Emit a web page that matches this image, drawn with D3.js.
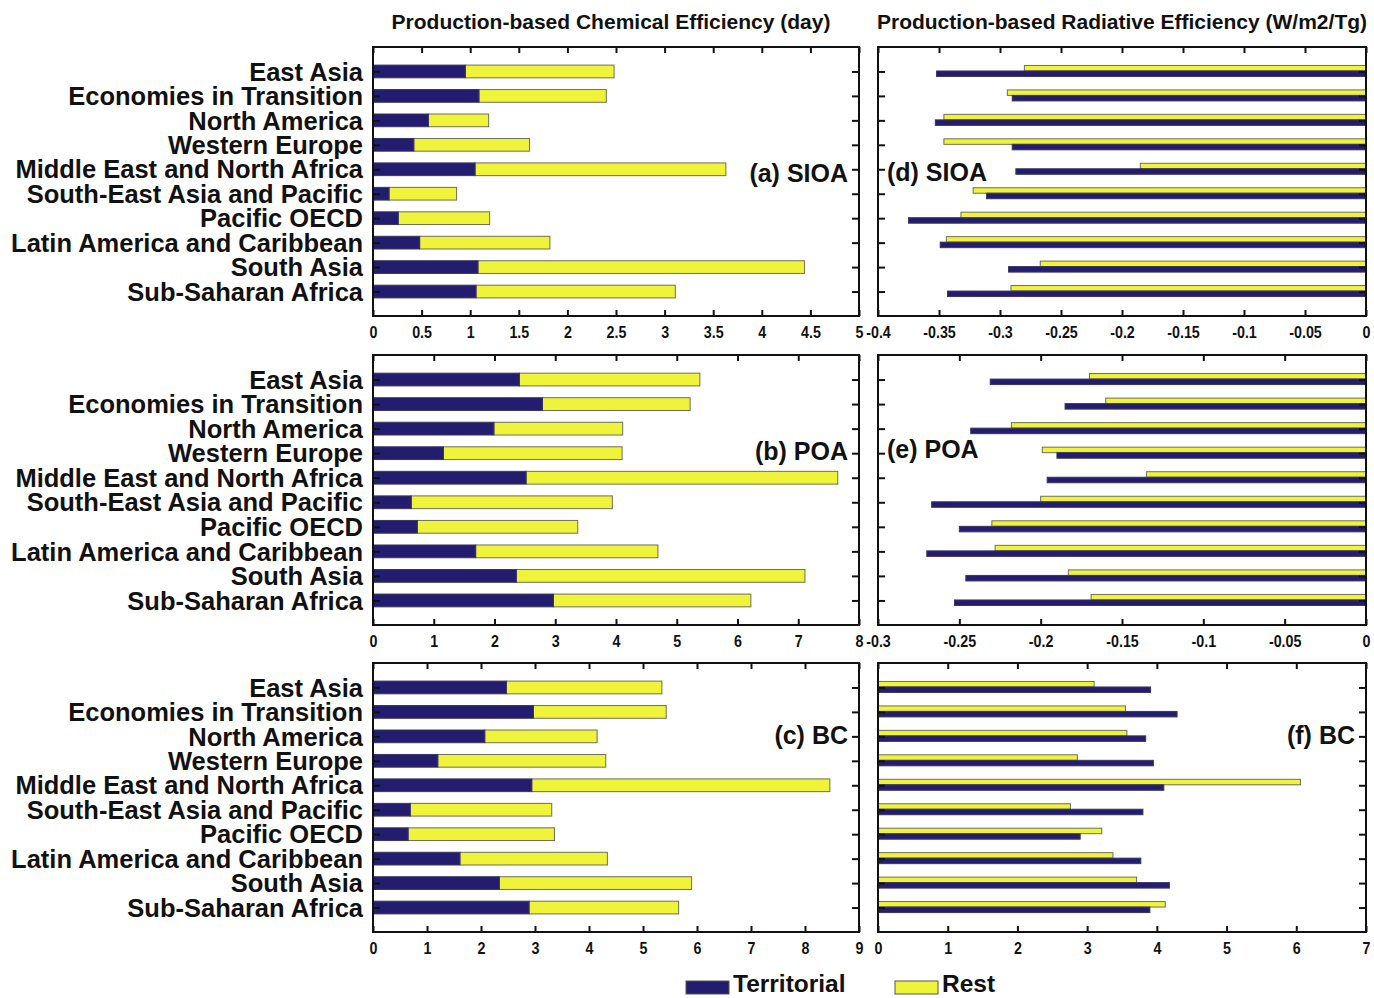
<!DOCTYPE html>
<html>
<head>
<meta charset="utf-8">
<script src="https://cdn.jsdelivr.net/npm/d3@7"></script>
<style>
  html, body { margin: 0; padding: 0; background: #fff; }
  svg { display: block; }
  text { font-family: "Liberation Sans", Arial, sans-serif; font-weight: bold; fill: #111; }
</style>
</head>
<body>
<svg id="chart" width="1374" height="998"></svg>
<script>
// ---------------- DATA ----------------
const categories = ["East Asia", "Economies in Transition", "North America", "Western Europe",
  "Middle East and North Africa", "South-East Asia and Pacific", "Pacific OECD",
  "Latin America and Caribbean", "South Asia", "Sub-Saharan Africa"];

// Production-based chemical efficiency (day): stacked Territorial + Rest
const sioaChemTerritorial = [0.95, 1.09, 0.57, 0.42, 1.05, 0.165, 0.26, 0.48, 1.08, 1.06];
const sioaChemRest        = [1.53, 1.31, 0.62, 1.19, 2.58, 0.695, 0.94, 1.34, 3.36, 2.05];
const poaChemTerritorial  = [2.41, 2.79, 1.99, 1.16, 2.52, 0.63, 0.73, 1.69, 2.36, 2.97];
const poaChemRest         = [2.97, 2.43, 2.12, 2.94, 5.13, 3.31, 2.64, 3.00, 4.75, 3.25];
const bcChemTerritorial   = [2.47, 2.97, 2.07, 1.20, 2.94, 0.69, 0.65, 1.61, 2.34, 2.89];
const bcChemRest          = [2.88, 2.46, 2.08, 3.11, 5.52, 2.62, 2.71, 2.73, 3.56, 2.77];

// Production-based radiative efficiency (W/m2/Tg): grouped Territorial / Rest
const sioaRadTerritorial = [-0.352, -0.290, -0.353, -0.290, -0.287, -0.311, -0.375, -0.349, -0.293, -0.343];
const sioaRadRest        = [-0.280, -0.294, -0.346, -0.346, -0.185, -0.322, -0.332, -0.344, -0.267, -0.291];
const poaRadTerritorial  = [-0.231, -0.185, -0.243, -0.190, -0.196, -0.267, -0.250, -0.270, -0.246, -0.253];
const poaRadRest         = [-0.170, -0.160, -0.218, -0.199, -0.135, -0.200, -0.230, -0.228, -0.183, -0.169];
const bcRadTerritorial   = [3.91, 4.29, 3.84, 3.95, 4.10, 3.80, 2.90, 3.77, 4.18, 3.90];
const bcRadRest          = [3.10, 3.55, 3.57, 2.86, 6.06, 2.76, 3.21, 3.37, 3.71, 4.12];

// Tick values
const ticksSioaChem = [0, 0.5, 1, 1.5, 2, 2.5, 3, 3.5, 4, 4.5, 5];
const ticksPoaChem  = [0, 1, 2, 3, 4, 5, 6, 7, 8];
const ticksBcChem   = [0, 1, 2, 3, 4, 5, 6, 7, 8, 9];
const ticksSioaRad  = [-0.4, -0.35, -0.3, -0.25, -0.2, -0.15, -0.1, -0.05, 0];
const ticksPoaRad   = [-0.3, -0.25, -0.2, -0.15, -0.1, -0.05, 0];
const ticksBcRad    = [0, 1, 2, 3, 4, 5, 6, 7];

const columnTitles = ["Production-based Chemical Efficiency (day)", "Production-based Radiative Efficiency (W/m2/Tg)"];
const panelLabels = ["(a) SIOA", "(b) POA", "(c) BC", "(d) SIOA", "(e) POA", "(f) BC"];
const seriesNames = ["Territorial", "Rest"];

// ---------------- STYLE / LAYOUT ----------------
const NAVY = "#241d6f", YELLOW = "#eff33a", BAR_STROKE = "#6e6e5a";
const svg = d3.select("#chart");
svg.append("rect").attr("width", 1374).attr("height", 998).attr("fill", "#fff");

const cols = [{x0: 373, x1: 859}, {x0: 878, x1: 1366}];
const rows = [{y0: 47, y1: 316}, {y0: 355, y1: 625}, {y0: 663, y1: 932}];

const panels = [
  {col: 0, row: 0, type: "stacked", terr: sioaChemTerritorial, rest: sioaChemRest, domain: [0, 5], ticks: ticksSioaChem, label: panelLabels[0], labelPos: "right", labelCat: 4, labelDy: 4},
  {col: 0, row: 1, type: "stacked", terr: poaChemTerritorial, rest: poaChemRest, domain: [0, 8], ticks: ticksPoaChem, label: panelLabels[1], labelPos: "right", labelCat: 3, labelDy: -2},
  {col: 0, row: 2, type: "stacked", terr: bcChemTerritorial, rest: bcChemRest, domain: [0, 9], ticks: ticksBcChem, label: panelLabels[2], labelPos: "right", labelCat: 2, labelDy: -1},
  {col: 1, row: 0, type: "grouped", terr: sioaRadTerritorial, rest: sioaRadRest, domain: [-0.4, 0], ticks: ticksSioaRad, label: panelLabels[3], labelPos: "left", labelCat: 4, labelDy: 3},
  {col: 1, row: 1, type: "grouped", terr: poaRadTerritorial, rest: poaRadRest, domain: [-0.3, 0], ticks: ticksPoaRad, label: panelLabels[4], labelPos: "left", labelCat: 3, labelDy: -4},
  {col: 1, row: 2, type: "grouped", terr: bcRadTerritorial, rest: bcRadRest, domain: [0, 7], ticks: ticksBcRad, label: panelLabels[5], labelPos: "right", labelCat: 2, labelDy: -1},
];

const fmt = v => { const s = String(+v.toFixed(2)); return s === "-0" ? "0" : s; };

panels.forEach(p => {
  const {x0, x1} = cols[p.col];
  const {y0, y1} = rows[p.row];
  const x = d3.scaleLinear().domain(p.domain).range([x0, x1]);
  const y = d3.scalePoint().domain(categories).range([y0, y1]).padding(1);
  const step = y.step();
  const g = svg.append("g");
  const zero = x(0);

  if (p.type === "stacked") {
    const h = step * 0.52;
    const data = categories.map((c, i) => ({c, t: p.terr[i], r: p.rest[i]}));
    g.selectAll("rect.rest").data(data).join("rect")
      .attr("x", d => x(d.t)).attr("width", d => x(d.t + d.r) - x(d.t))
      .attr("y", d => y(d.c) - h / 2).attr("height", h)
      .attr("fill", YELLOW).attr("stroke", BAR_STROKE).attr("stroke-width", 1);
    g.selectAll("rect.terr").data(data).join("rect")
      .attr("x", zero).attr("width", d => x(d.t) - zero)
      .attr("y", d => y(d.c) - h / 2).attr("height", h)
      .attr("fill", NAVY).attr("stroke", "#3a3560").attr("stroke-width", 1);
    // category labels
    g.selectAll("text.cat").data(categories).join("text")
      .attr("x", x0 - 10).attr("y", d => y(d))
      .attr("dy", "0.36em").attr("text-anchor", "end")
      .style("font-size", "25.5px").text(d => d);
  } else {
    const data = categories.map((c, i) => ({c, t: p.terr[i], r: p.rest[i]}));
    const left = v => Math.min(x(v), zero), wid = v => Math.abs(x(v) - zero);
    g.selectAll("rect.rest").data(data).join("rect")
      .attr("x", d => left(d.r)).attr("width", d => wid(d.r))
      .attr("y", d => y(d.c) - step * 0.245).attr("height", step * 0.225)
      .attr("fill", YELLOW).attr("stroke", BAR_STROKE).attr("stroke-width", 1);
    g.selectAll("rect.terr").data(data).join("rect")
      .attr("x", d => left(d.t)).attr("width", d => wid(d.t))
      .attr("y", d => y(d.c) - step * 0.02).attr("height", step * 0.225)
      .attr("fill", NAVY).attr("stroke", "#3a3560").attr("stroke-width", 1);
  }

  // axes (inward ticks)
  const bottom = g.append("g").attr("transform", `translate(0,${y1})`)
    .call(d3.axisBottom(x).tickValues(p.ticks).tickSize(-6).tickPadding(10).tickFormat(fmt));
  const top = g.append("g").attr("transform", `translate(0,${y0})`)
    .call(d3.axisTop(x).tickValues(p.ticks).tickSize(-6).tickFormat(""));
  const leftAx = g.append("g").attr("transform", `translate(${x0},0)`)
    .call(d3.axisLeft(y).tickSize(-7).tickFormat(""));
  const rightAx = g.append("g").attr("transform", `translate(${x1},0)`)
    .call(d3.axisRight(y).tickSize(-7).tickFormat(""));
  [bottom, top, leftAx, rightAx].forEach(a => {
    a.select(".domain").remove();
    a.selectAll(".tick line").attr("stroke", "#111").attr("stroke-width", 2);
  });
  bottom.selectAll(".tick text")
    .style("font-size", "17px").style("font-family", "'Liberation Sans', Arial, sans-serif")
    .style("font-weight", "bold").attr("fill", "#111")
    .each(function () {
      const len = this.getComputedTextLength();
      d3.select(this).attr("textLength", len * 0.84).attr("lengthAdjust", "spacingAndGlyphs");
    });

  // frame
  g.append("rect").attr("x", x0).attr("y", y0).attr("width", x1 - x0).attr("height", y1 - y0)
    .attr("fill", "none").attr("stroke", "#111").attr("stroke-width", 2);

  // panel label
  const ly = y(categories[p.labelCat]) + p.labelDy;
  g.append("text")
    .attr("x", p.labelPos === "right" ? x1 - 11 : x0 + 9)
    .attr("y", ly).attr("dy", "0.36em")
    .attr("text-anchor", p.labelPos === "right" ? "end" : "start")
    .style("font-size", "25px").text(p.label);
});

// column titles
svg.selectAll("text.title").data(columnTitles).join("text")
  .attr("x", (d, i) => (cols[i].x0 + cols[i].x1) / 2 - (i === 0 ? 5 : 0))
  .attr("y", 29).attr("text-anchor", "middle")
  .style("font-size", "21px").text(d => d);

// legend
const legendItems = [{name: seriesNames[0], color: NAVY, x: 686}, {name: seriesNames[1], color: YELLOW, x: 895}];
const lg = svg.append("g");
lg.selectAll("rect").data(legendItems).join("rect")
  .attr("x", d => d.x).attr("y", 981).attr("width", 43).attr("height", 13)
  .attr("fill", d => d.color).attr("stroke", "#555").attr("stroke-width", 1);
lg.selectAll("text").data(legendItems).join("text")
  .attr("x", d => d.x + 47).attr("y", 992)
  .style("font-size", "24.5px").text(d => d.name);
</script>
</body>
</html>
